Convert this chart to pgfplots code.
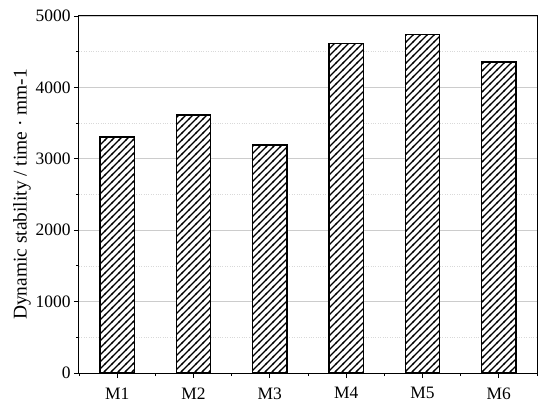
\documentclass[border=0pt]{standalone}
\usepackage{fontspec}
\setmainfont{Liberation Serif}
\usepackage{pgfplots}
\pgfplotsset{compat=1.18}
\usetikzlibrary{patterns}

% diagonal hatching, about 7bp apart horizontally
\pgfdeclarepatternformonly{hatch}{\pgfqpoint{-1bp}{-1bp}}{\pgfqpoint{8bp}{8bp}}{\pgfqpoint{7bp}{7bp}}{%
  \pgfsetlinewidth{1.2bp}%
  \pgfpathmoveto{\pgfqpoint{-1bp}{-1bp}}%
  \pgfpathlineto{\pgfqpoint{8bp}{8bp}}%
  \pgfusepath{stroke}}

\begin{document}
\begin{tikzpicture}
\begin{axis}[
    width=458bp, height=357bp, scale only axis,
    ybar, bar width=0.45,
    xmin=0.5, xmax=6.5,
    ymin=0, ymax=5000,
    xtick={1,...,6},
    xticklabels={M1,M2,M3,M4,M5,M6},
    minor xtick={0.5,1.5,...,6.5},
    ytick={0,1000,...,5000},
    minor ytick={500,1500,...,4500},
    tick pos=left, tick align=outside,
    major tick length=5bp, minor tick length=3bp,
    every tick/.style={black, line width=0.8bp},
    axis line style={line width=1bp},
    ymajorgrids, yminorgrids,
    major grid style={gray!40, line width=0.6bp},
    minor grid style={gray!30, dotted, line width=0.5bp},
    ylabel={Dynamic stability / time · mm-1},
    ylabel style={yshift=-2bp},
    tick label style={font=\fontsize{17.5}{20}\selectfont},
    xticklabel style={yshift=-6bp},
    label style={font=\fontsize{19.5}{22}\selectfont},
    /pgf/number format/assume math mode=true,
    scaled y ticks=false,
    yticklabel style={/pgf/number format/1000 sep={}},
]
\addplot[draw=black, line width=1.4bp, fill=white,
    postaction={pattern=hatch}]
  coordinates {(1,3305) (2,3612) (3,3192) (4,4612) (5,4742) (6,4356)};
\coordinate (sw) at (rel axis cs:0,0);
\coordinate (ne) at (rel axis cs:1,1);
\end{axis}
\pgfresetboundingbox
\path ([shift={(-79bp,-40bp)}]sw) rectangle ([shift={(13bp,16bp)}]ne);
\end{tikzpicture}
\end{document}
